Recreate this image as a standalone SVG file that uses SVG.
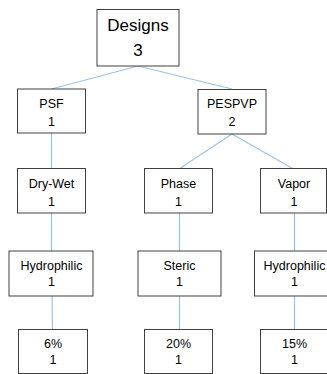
<svg xmlns="http://www.w3.org/2000/svg" width="327" height="374" viewBox="0 0 327 374">
<style>
rect.box{fill:#ffffff;stroke:#404040;stroke-width:1}
line.conn{stroke:#9dc3e6;stroke-width:1.2}
text{font-family:"Liberation Sans",Arial,sans-serif;font-size:12.5px;fill:#000;text-anchor:middle}
text.big{font-size:17px}
</style>
<rect width="327" height="374" fill="#ffffff"/>
<g id="connectors">
<line class="conn" x1="138" y1="66" x2="51.5" y2="89"/>
<line class="conn" x1="138" y1="66" x2="232" y2="89"/>
<line class="conn" x1="51.5" y1="133" x2="51.5" y2="169"/>
<line class="conn" x1="232" y1="134" x2="179" y2="169"/>
<line class="conn" x1="232" y1="134" x2="293.5" y2="169"/>
<line class="conn" x1="51.5" y1="213" x2="51.5" y2="251"/>
<line class="conn" x1="179.5" y1="213" x2="179.5" y2="251"/>
<line class="conn" x1="294.5" y1="213" x2="294.5" y2="251"/>
<line class="conn" x1="52" y1="296" x2="52.5" y2="329"/>
<line class="conn" x1="179.5" y1="296" x2="179.5" y2="329"/>
<line class="conn" x1="294.5" y1="296" x2="294.5" y2="329"/>
</g>
<g id="designs">
<rect class="box" x="97" y="9.5" width="82" height="56.5"/>
<text class="big" x="138" y="31">Designs</text>
<text class="big" x="138" y="56">3</text>
</g>
<g id="psf">
<rect class="box" x="17.5" y="89" width="68" height="44"/>
<text x="51.5" y="107.5">PSF</text>
<text x="51.5" y="125.5">1</text>
</g>
<g id="pespvp">
<rect class="box" x="198" y="89.5" width="68" height="44.5"/>
<text x="232" y="107.5">PESPVP</text>
<text x="232" y="126">2</text>
</g>
<g id="drywet">
<rect class="box" x="17.5" y="168.5" width="68" height="44.5"/>
<text x="51.5" y="187.5">Dry-Wet</text>
<text x="51.5" y="205.5">1</text>
</g>
<g id="phase">
<rect class="box" x="144.5" y="168.5" width="68" height="44.5"/>
<text x="178.5" y="187.5">Phase</text>
<text x="178.5" y="205.5">1</text>
</g>
<g id="vapor">
<rect class="box" x="260.5" y="168.5" width="66" height="44.5"/>
<text x="294" y="187.5">Vapor</text>
<text x="294" y="205.5">1</text>
</g>
<g id="hydrophilic1">
<rect class="box" x="9" y="251" width="84" height="45"/>
<text x="51.5" y="269.5">Hydrophilic</text>
<text x="51.5" y="286">1</text>
</g>
<g id="steric">
<rect class="box" x="138" y="251" width="83" height="45"/>
<text x="179.5" y="269.5">Steric</text>
<text x="179.5" y="286">1</text>
</g>
<g id="hydrophilic2">
<rect class="box" x="254.5" y="251" width="80" height="45"/>
<text x="294.5" y="269.5">Hydrophilic</text>
<text x="294.5" y="286">1</text>
</g>
<g id="p6">
<rect class="box" x="18.5" y="329.5" width="69" height="44"/>
<text x="53" y="348">6%</text>
<text x="53" y="364">1</text>
</g>
<g id="p20">
<rect class="box" x="144.5" y="329.5" width="68" height="44"/>
<text x="178.5" y="348">20%</text>
<text x="178.5" y="364">1</text>
</g>
<g id="p15">
<rect class="box" x="260.5" y="329.5" width="68" height="44"/>
<text x="294.5" y="348">15%</text>
<text x="294.5" y="364">1</text>
</g>
</svg>
